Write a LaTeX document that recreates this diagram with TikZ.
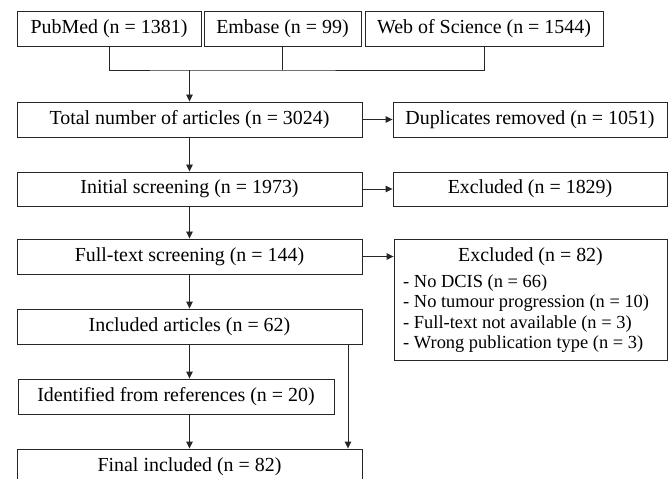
\documentclass[tikz,border=0pt]{standalone}
\usepackage{fontspec}
\setmainfont{Liberation Serif}
\usetikzlibrary{arrows.meta}
\begin{document}
\begin{tikzpicture}[x=1bp,y=-1bp,
  box/.style={draw=black!85, line width=0.9bp, inner sep=0pt, minimum height=35bp, font=\fontsize{20}{24}\selectfont},
  lbl/.style={inner sep=0pt, font=\fontsize{20}{24}\selectfont},
  item/.style={inner sep=0pt, anchor=west, font=\fontsize{18.5}{22}\selectfont},
  conn/.style={draw=black!85, line width=0.9bp},
  arr/.style={conn, -{Triangle[length=7bp,width=6.5bp]}}]
\useasboundingbox (0,0) rectangle (668,479);
\clip (0,0) rectangle (668,479);
% sources
\node[box, minimum width=184bp] (pub) at (109,28.5) {PubMed (n = 1381)};
\node[box, minimum width=157bp] (emb) at (282.5,28.5) {Embase (n = 99)};
\node[box, minimum width=238bp] (wos) at (484,28.5) {Web of Science (n = 1544)};
% main column
\node[box, minimum width=345bp] (total) at (189.5,119.5) {Total number of articles (n = 3024)};
\node[box, minimum width=274bp] (dup) at (530,119.5) {Duplicates removed (n = 1051)};
\node[box, minimum width=345bp, minimum height=34bp] (init) at (189.5,189) {Initial screening (n = 1973)};
\node[box, minimum width=274bp, minimum height=34bp] (exa) at (530,189) {Excluded (n = 1829)};
\node[box, minimum width=345bp] (full) at (189.5,256.5) {Full-text screening (n = 144)};
\node[box, minimum width=273bp, minimum height=121bp] (exb) at (530.5,299.5) {};
\node[lbl] (exbt) at (530.5,257) {Excluded (n = 82)};
\node[item] (i1) at (403,283) {- No DCIS (n = 66)};
\node[item] (i2) at (403,303.5) {- No tumour progression (n = 10)};
\node[item] (i3) at (403,324) {- Full-text not available (n = 3)};
\node[item] (i4) at (403,344) {- Wrong publication type (n = 3)};
\node[box, minimum width=345bp] (incl) at (189.5,326.5) {Included articles (n = 62)};
\node[box, minimum width=316bp] (ident) at (176,396.5) {Identified from references (n = 20)};
\node[box, minimum width=345bp] (final) at (189.5,466.5) {Final included (n = 82)};
% connectors
\coordinate (bj) at (189.5,70);
\coordinate (sx) at (348,0);
\draw[conn] (pub.south) |- (bj) -| (wos.south);
\draw[conn] (emb.south) -- (emb.south |- bj);
\draw[arr] (bj) -- (total.north);
\draw[arr] (total.east) -- (dup.west);
\draw[arr] (total.south) -- (init.north);
\draw[arr] (init.east) -- (exa.west);
\draw[arr] (init.south) -- (full.north);
\draw[arr] (full.east) -- (full.east -| exb.west);
\draw[arr] (full.south) -- (incl.north);
\draw[arr] (incl.south) -- (incl.south |- ident.north);
\draw[arr] (ident.south -| incl.south) -- (final.north);
\draw[arr] (incl.south -| sx) -- (final.north -| sx);
\end{tikzpicture}
\end{document}
